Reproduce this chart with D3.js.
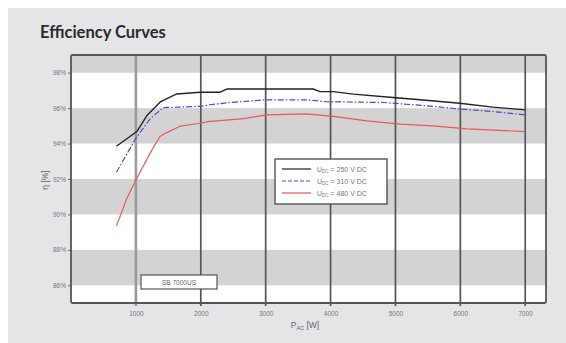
<!DOCTYPE html>
<html><head><meta charset="utf-8">
<script src="https://cdn.jsdelivr.net/npm/d3@7/dist/d3.min.js"></script>
<style>body{margin:0;background:#fff}svg{display:block}</style>
</head><body><svg id="c" width="566" height="343"></svg>
<script>
const xTicks = [1000,2000,3000,4000,5000,6000,7000];
const yTicks = [86,88,90,92,94,96,98];
const bands = [[98,99],[94,96],[90,92],[86,88]];
const seriesNames = ["U\u2009DC = 250 V DC","U\u2009DC = 310 V DC","U\u2009DC = 480 V DC"];
const s250P = [700,1015,1170,1375,1630,1990,2300,2400,3000,3730,3840,4040,4350,4960,5380,5990,6500,7000];
const s250E = [93.85,94.68,95.58,96.35,96.8,96.9,96.9,97.08,97.08,97.08,96.93,96.93,96.79,96.6,96.47,96.28,96.06,95.9];
const s310P = [700,1000,1220,1420,2000,2140,2450,3000,3630,3940,4810,5070,5580,6000,6500,7000];
const s310E = [92.38,94.3,95.4,96.03,96.1,96.19,96.32,96.47,96.47,96.36,96.32,96.25,96.1,95.95,95.81,95.62];
const s480P = [700,860,1000,1220,1370,1475,1680,1935,2140,2300,2660,3020,3630,4040,4560,5070,5580,6100,7000];
const s480E = [89.34,90.9,91.94,93.46,94.4,94.62,94.98,95.12,95.25,95.3,95.41,95.62,95.68,95.53,95.28,95.1,95.0,94.83,94.68];
const colors = ["#222222","#4a4ad0","#e85a5a"];
const dashes = [null,"6,2,1.5,2",null];

const svg = d3.select("#c");
svg.append("rect").attr("x",8).attr("y",8).attr("width",558).attr("height",335).attr("fill","#e4e5e7");
svg.append("text").attr("x",40).attr("y",38).attr("font-family","Lato, 'Open Sans', sans-serif")
  .attr("font-weight","bold").attr("font-size",16.5).attr("fill","#2a2a2a").text("Efficiency Curves");

const L=71,R=546,T=55,B=303;
const x = d3.scaleLinear().domain([0,7320]).range([L,R]);
const y = d3.scaleLinear().domain([85,99]).range([B,T]);

const g = svg.append("g");
g.append("rect").attr("x",L).attr("y",T).attr("width",R-L).attr("height",B-T).attr("fill","#fff");
g.selectAll(".band").data(bands).join("rect")
  .attr("x",L).attr("width",R-L).attr("y",d=>y(d[1])).attr("height",d=>y(d[0])-y(d[1])).attr("fill","#d3d3d3");

// vertical grid
g.selectAll(".vg").data(xTicks).join("line")
  .attr("x1",d=>x(d)).attr("x2",d=>x(d)).attr("y1",T).attr("y2",B+3)
  .attr("stroke",(d,i)=>i===0?"#9a9a9a":"#555").attr("stroke-width",(d,i)=>i===0?2.6:1.7);

// axes
const xa = d3.axisBottom(x).tickValues(xTicks).tickSize(0).tickPadding(8).tickFormat(d3.format("d"));
const xg = g.append("g").attr("transform",`translate(0,${B})`).call(xa);
xg.select(".domain").remove();
xg.selectAll("text").attr("font-family","'Liberation Sans', Arial, sans-serif").attr("font-size",6.5).attr("fill","#777");
const ya = d3.axisLeft(y).tickValues(yTicks).tickSize(3).tickPadding(2).tickFormat(d=>d+"%");
const yg = g.append("g").attr("transform",`translate(${L},0)`).call(ya);
yg.select(".domain").remove();
yg.selectAll("line").attr("stroke","#666");
yg.selectAll("text").attr("font-family","'Liberation Sans', Arial, sans-serif").attr("font-size",6.5).attr("fill","#777");

// frame
g.append("rect").attr("x",L).attr("y",T).attr("width",R-L).attr("height",B-T).attr("rx",1.5)
  .attr("fill","none").attr("stroke","#555").attr("stroke-width",1.8);

// curves
const data = [[s250P,s250E],[s310P,s310E],[s480P,s480E]];
const line = d3.line().x(d=>x(d[0])).y(d=>y(d[1]));
data.forEach((s,i)=>{
  const pts = s[0].map((p,j)=>[p,s[1][j]]);
  g.append("path").attr("d",line(pts)).attr("fill","none").attr("stroke",colors[i])
    .attr("stroke-width",i===0?1.4:1.2).attr("stroke-dasharray",dashes[i]).attr("stroke-linejoin","round");
});

// legend
const lg = g.append("g").attr("transform","translate(275,159)");
lg.append("rect").attr("width",112).attr("height",45).attr("fill","#fff").attr("stroke","#555").attr("stroke-width",1.4);
seriesNames.forEach((n,i)=>{
  const yy = 10+i*12;
  lg.append("line").attr("x1",7).attr("x2",36).attr("y1",yy).attr("y2",yy)
    .attr("stroke",colors[i]).attr("stroke-width",1.2).attr("stroke-dasharray",i===1?"4,2":null);
  const t = lg.append("text").attr("x",42).attr("y",yy+2.5).attr("font-family","'Liberation Sans', Arial, sans-serif")
    .attr("font-size",7).attr("fill","#777");
  t.append("tspan").text("U");
  t.append("tspan").attr("font-size",4.5).attr("dy",1.5).text("DC");
  t.append("tspan").attr("dy",-1.5).text(" = "+n.split("= ")[1]);
});

// model label
const mb = g.append("g").attr("transform","translate(141,275)");
mb.append("rect").attr("width",76).attr("height",14).attr("fill","#fff").attr("stroke","#555").attr("stroke-width",1.2);
mb.append("text").attr("x",38).attr("y",10).attr("text-anchor","middle").attr("font-family","'Liberation Sans', Arial, sans-serif")
  .attr("font-size",6.5).attr("fill","#666").text("SB 7000US");

// axis titles
const xt = svg.append("text").attr("x",305).attr("y",328).attr("text-anchor","middle")
  .attr("font-family","'Liberation Sans', Arial, sans-serif").attr("font-size",8.5).attr("fill","#666");
xt.append("tspan").text("P");
xt.append("tspan").attr("font-size",5.5).attr("dy",2).text("AC");
xt.append("tspan").attr("dy",-2).text(" [W]");
svg.append("text").attr("transform","translate(48,180) rotate(-90)").attr("text-anchor","middle")
  .attr("font-family","'Liberation Sans', Arial, sans-serif").attr("font-size",8.5).attr("fill","#666").text("η [%]");
</script></body></html>
